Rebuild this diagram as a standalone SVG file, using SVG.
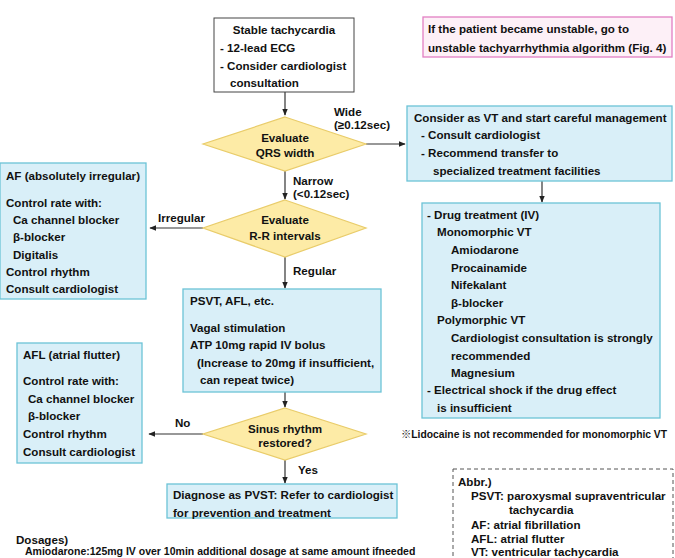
<svg xmlns="http://www.w3.org/2000/svg" width="675" height="558" viewBox="0 0 675 558">
<defs>
<marker id="ah" viewBox="0 0 10 10" refX="9" refY="5" markerWidth="7" markerHeight="7" markerUnits="userSpaceOnUse" orient="auto">
<path d="M0,1 L10,5 L0,9 z" fill="#222"/>
</marker>
<style>
text{font-family:"Liberation Sans",Arial,"Noto Sans CJK JP",sans-serif;font-weight:bold;font-size:11.6px;fill:#111;dominant-baseline:central}
.box{fill:#d9eff8;stroke:#6cc3d6;stroke-width:1.3}
.dia{fill:#fdeba6;stroke:#e9cc6a;stroke-width:1.2}
.wbox{fill:#fff;stroke:#444;stroke-width:1}
.pbox{fill:#fdf0f7;stroke:#e27fc3;stroke-width:1.3}
.ln{stroke:#333;stroke-width:1.2;fill:none}
.mid{text-anchor:middle}
</style>
</defs>
<rect width="675" height="558" fill="#fff"/>

<g id="connectors">
<line class="ln" x1="285" y1="92" x2="285" y2="115" marker-end="url(#ah)"/>
<line class="ln" x1="366" y1="144" x2="405" y2="144" marker-end="url(#ah)"/>
<line class="ln" x1="285" y1="171" x2="285" y2="199" marker-end="url(#ah)"/>
<line class="ln" x1="542" y1="181" x2="542" y2="202" marker-end="url(#ah)"/>
<line class="ln" x1="203" y1="228" x2="150" y2="228" marker-end="url(#ah)"/>
<line class="ln" x1="285" y1="257" x2="285" y2="288" marker-end="url(#ah)"/>
<line class="ln" x1="285" y1="392" x2="285" y2="407" marker-end="url(#ah)"/>
<line class="ln" x1="203" y1="434" x2="149" y2="434" marker-end="url(#ah)"/>
<line class="ln" x1="285" y1="460" x2="285" y2="483" marker-end="url(#ah)"/>
<text x="334" y="111">Wide</text>
<text x="334" y="124">(≥0.12sec)</text>
<text x="293" y="180">Narrow</text>
<text x="293" y="193">(&lt;0.12sec)</text>
<text x="158" y="217">Irregular</text>
<text x="293" y="270">Regular</text>
<text x="175" y="422">No</text>
<text x="298" y="469">Yes</text>
</g>

<g id="start">
<rect class="wbox" x="214" y="18" width="140" height="74"/>
<text x="284" y="29" class="mid">Stable tachycardia</text>
<text x="220" y="47">- 12-lead ECG</text>
<text x="220" y="65">- Consider cardiologist</text>
<text x="230" y="82">consultation</text>
</g>

<g id="unstable-note">
<rect class="pbox" x="423" y="17" width="249" height="40"/>
<text x="428" y="28">If the patient became unstable, go to</text>
<text x="428" y="47">unstable tachyarrhythmia algorithm (Fig. 4)</text>
</g>

<g id="qrs">
<polygon class="dia" points="285,117 366,144 285,171 203,144"/>
<text x="285" y="137" class="mid">Evaluate</text>
<text x="285" y="152" class="mid">QRS width</text>
</g>

<g id="vt">
<rect class="box" x="407" y="106" width="265" height="75"/>
<text x="414" y="117">Consider as VT and start careful management</text>
<text x="421" y="134">- Consult cardiologist</text>
<text x="421" y="152">- Recommend transfer to</text>
<text x="433" y="170">specialized treatment facilities</text>
</g>

<g id="drug">
<rect class="box" x="422" y="203" width="238" height="215"/>
<text x="427" y="214">- Drug treatment (IV)</text>
<text x="437" y="231">Monomorphic VT</text>
<text x="451" y="249">Amiodarone</text>
<text x="451" y="267">Procainamide</text>
<text x="451" y="284">Nifekalant</text>
<text x="451" y="302">β-blocker</text>
<text x="437" y="319">Polymorphic VT</text>
<text x="451" y="337">Cardiologist consultation is strongly</text>
<text x="451" y="355">recommended</text>
<text x="451" y="372">Magnesium</text>
<text x="427" y="389">- Electrical shock if the drug effect</text>
<text x="437" y="407">is insufficient</text>
</g>

<g id="af">
<rect class="box" x="0" y="163" width="146" height="136"/>
<text x="6" y="175">AF (absolutely irregular)</text>
<text x="6" y="202">Control rate with:</text>
<text x="13" y="219">Ca channel blocker</text>
<text x="13" y="236">β-blocker</text>
<text x="13" y="254">Digitalis</text>
<text x="6" y="271">Control rhythm</text>
<text x="6" y="288">Consult cardiologist</text>
</g>

<g id="rr">
<polygon class="dia" points="285,200 366,228 285,257 203,228"/>
<text x="285" y="219" class="mid">Evaluate</text>
<text x="285" y="235" class="mid">R-R intervals</text>
</g>

<g id="psvt">
<rect class="box" x="183" y="289" width="198" height="103"/>
<text x="190" y="300">PSVT, AFL, etc.</text>
<text x="190" y="327">Vagal stimulation</text>
<text x="190" y="344">ATP 10mg rapid IV bolus</text>
<text x="197" y="362">(Increase to 20mg if insufficient,</text>
<text x="200" y="379">can repeat twice)</text>
</g>

<g id="sinus">
<polygon class="dia" points="285,408 366,434 285,460 203,434"/>
<text x="285" y="428" class="mid">Sinus rhythm</text>
<text x="285" y="442" class="mid">restored?</text>
</g>

<g id="afl">
<rect class="box" x="17" y="343" width="125" height="120"/>
<text x="23" y="354">AFL (atrial flutter)</text>
<text x="23" y="380">Control rate with:</text>
<text x="28" y="398">Ca channel blocker</text>
<text x="28" y="415">β-blocker</text>
<text x="23" y="433">Control rhythm</text>
<text x="23" y="451">Consult cardiologist</text>
</g>

<g id="diagnose">
<rect class="box" x="167" y="484" width="230" height="34"/>
<text x="173" y="494">Diagnose as PVST: Refer to cardiologist</text>
<text x="173" y="512">for prevention and treatment</text>
</g>

<g id="lidocaine">
<text x="401" y="434" style="font-size:10.3px">※Lidocaine is not recommended for monomorphic VT</text>
</g>

<g id="abbr">
<rect x="453" y="469" width="220" height="100" fill="#fff" stroke="#555" stroke-width="1" stroke-dasharray="4,3"/>
<text x="458" y="481">Abbr.)</text>
<text x="471" y="495">PSVT: paroxysmal supraventricular</text>
<text x="509" y="509">tachycardia</text>
<text x="471" y="524">AF: atrial fibrillation</text>
<text x="471" y="538">AFL: atrial flutter</text>
<text x="471" y="551">VT: ventricular tachycardia</text>
</g>

<g id="dosages">
<text x="16" y="539">Dosages)</text>
<text x="25" y="551" style="font-size:10.5px">Amiodarone:125mg IV over 10min additional dosage at same amount ifneeded</text>
</g>
</svg>
